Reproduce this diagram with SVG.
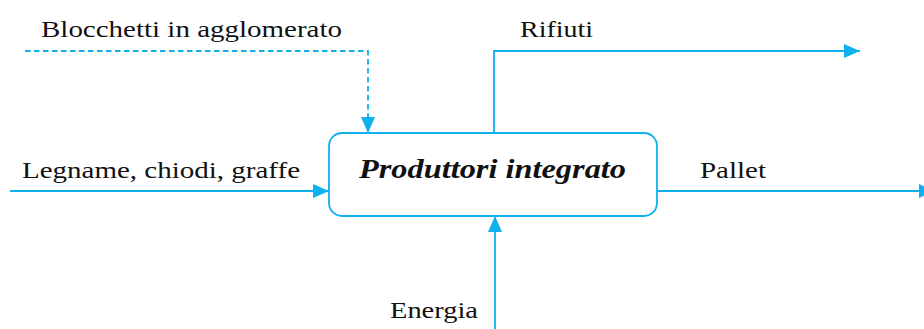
<svg xmlns="http://www.w3.org/2000/svg" width="924" height="329" viewBox="0 0 924 329">
  <style>
    .flow { fill: none; stroke: #0eb1ee; stroke-width: 1.8; }
    .dash { stroke-dasharray: 5.5 3.5; }
    .lbl { font-family: "Liberation Serif", "DejaVu Serif", serif; font-size: 24px; fill: #111; }
    .title { font-family: "Liberation Serif", "DejaVu Serif", serif; font-size: 27px; font-weight: bold; font-style: italic; fill: #111; }
  </style>
  <defs>
    <marker id="arrow" viewBox="0 0 16 14" refX="16" refY="7" markerWidth="16" markerHeight="14" markerUnits="userSpaceOnUse" orient="auto">
      <path d="M0,0 L16,7 L0,14 Z" fill="#0eb1ee"/>
    </marker>
  </defs>
  <rect width="924" height="329" fill="#fff"/>

  <g id="connectors">
    <!-- dashed input from the top -->
    <polyline class="flow dash" points="25,51 368,51 368,133" marker-end="url(#arrow)"/>
    <!-- waste output -->
    <polyline class="flow" points="494,133 494,51 860,51" marker-end="url(#arrow)"/>
    <!-- raw materials input -->
    <line class="flow" x1="10" y1="191" x2="329" y2="191" marker-end="url(#arrow)"/>
    <!-- product output -->
    <line class="flow" x1="657" y1="191" x2="935" y2="191" marker-end="url(#arrow)"/>
    <!-- energy input -->
    <line class="flow" x1="495" y1="330" x2="495" y2="216" marker-end="url(#arrow)"/>
  </g>

  <g id="node-produttori">
    <rect class="flow" x="329" y="133" width="328" height="83" rx="13" ry="13" fill="#fff"/>
    <text class="title" x="359" y="178" textLength="267" lengthAdjust="spacingAndGlyphs">Produttori integrato</text>
  </g>

  <g id="labels">
    <text class="lbl" x="41" y="37" textLength="301" lengthAdjust="spacingAndGlyphs">Blocchetti in agglomerato</text>
    <text class="lbl" x="520" y="37" textLength="73" lengthAdjust="spacingAndGlyphs">Rifiuti</text>
    <text class="lbl" x="22" y="178" textLength="278" lengthAdjust="spacingAndGlyphs">Legname, chiodi, graffe</text>
    <text class="lbl" x="700" y="178" textLength="66" lengthAdjust="spacingAndGlyphs">Pallet</text>
    <text class="lbl" x="390" y="318" textLength="88" lengthAdjust="spacingAndGlyphs">Energia</text>
  </g>
</svg>
